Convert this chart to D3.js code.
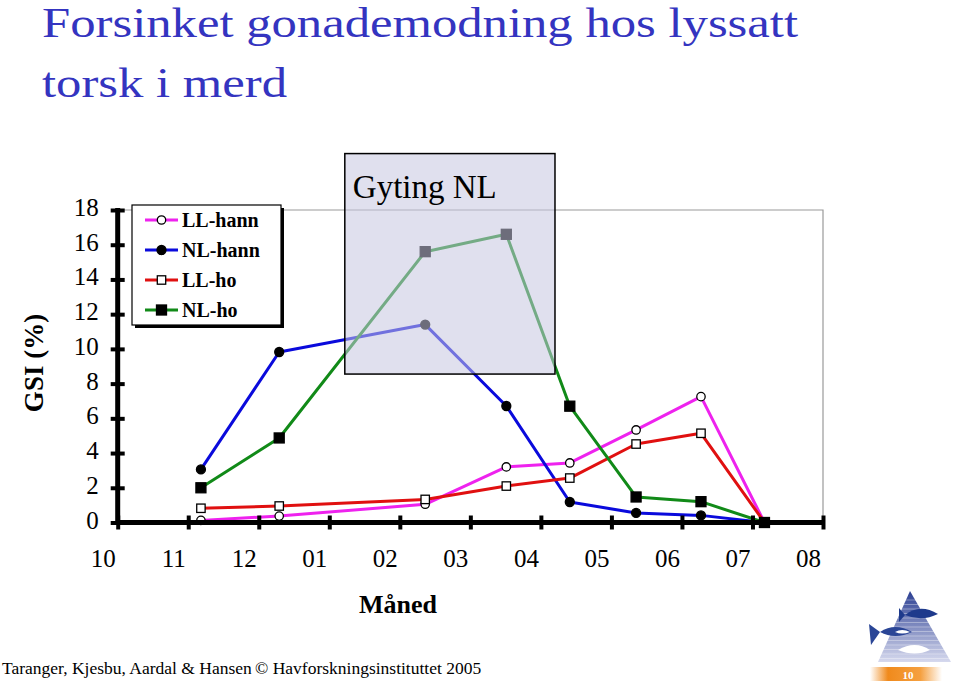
<!DOCTYPE html>
<html>
<head>
<meta charset="utf-8">
<script src="https://cdn.jsdelivr.net/npm/d3@7"></script>
<style>
  body { margin: 0; background: #fff; }
  svg { display: block; font-family: "Liberation Serif", "Times New Roman", serif; }
</style>
</head>
<body>
<svg id="chart" width="960" height="688"></svg>
<script>
// month ticks, first tick = October
var monthLabels = ['10', '11', '12', '01', '02', '03', '04', '05', '06', '07', '08'];
var gsiTicks = [0, 2, 4, 6, 8, 10, 12, 14, 16, 18];

// sampling time, in months after the October tick
var sampleMonth = [1.18, 2.29, 4.36, 5.51, 6.41, 7.35, 8.27, 9.17];

var llHann = [0.12, 0.37, 1.05, 3.2, 3.43, 5.33, 7.25, 0];
var nlHann = [3.06, 9.82, 11.4, 6.71, 1.18, 0.55, 0.41, 0];
var llHo   = [0.82, 0.95, 1.33, 2.1, 2.56, 4.52, 5.14, 0];
var nlHo   = [2.0, 4.87, 15.6, 16.6, 6.7, 1.47, 1.2, 0];

var seriesNames = ['LL-hann', 'NL-hann', 'LL-ho', 'NL-ho'];

// spawning period NL (months / GSI extent of the shaded box)
var spawnMonths = [3.22, 6.2];
var spawnGsi = [8.55, 21.25];

var series = [
  { name: seriesNames[0], values: llHann, color: '#ee22ee', marker: 'circle', filled: false },
  { name: seriesNames[1], values: nlHann, color: '#0a0adc', marker: 'circle', filled: true },
  { name: seriesNames[2], values: llHo,   color: '#e01010', marker: 'square', filled: false },
  { name: seriesNames[3], values: nlHo,   color: '#118a18', marker: 'square', filled: true }
];

var svg = d3.select('#chart');

var x = d3.scaleLinear().domain([0, 10]).range([117.7, 823]);
var y = d3.scaleLinear().domain([0, 18]).range([522.5, 210]);

// title (glyphs in the slide are a bit wider than the font's own)
var title = svg.append('g').attr('fill', '#3434c0').style('font-size', '42px');
title.append('text').attr('x', 42).attr('y', 37)
    .attr('textLength', 756).attr('lengthAdjust', 'spacingAndGlyphs')
    .text('Forsinket gonademodning hos lyssatt');
title.append('text').attr('x', 42).attr('y', 97)
    .attr('textLength', 245).attr('lengthAdjust', 'spacingAndGlyphs')
    .text('torsk i merd');

// plot frame (top and right)
svg.append('path')
    .attr('d', 'M' + x(0) + ',' + y(18) + 'H' + x(10) + 'V' + y(0))
    .attr('fill', 'none')
    .attr('stroke', '#9a9a9a')
    .attr('stroke-width', 1.2);

// lines + markers
var line = d3.line()
    .x(function(d, i) { return x(sampleMonth[i]); })
    .y(function(d) { return y(d); });

series.forEach(function(s) {
    var g = svg.append('g');
    g.append('path')
        .attr('d', line(s.values))
        .attr('fill', 'none')
        .attr('stroke', s.color)
        .attr('stroke-width', 3)
        .attr('stroke-linejoin', 'round');
    s.values.forEach(function(v, i) {
        drawMarker(g, s, x(sampleMonth[i]), y(v));
    });
});

function drawMarker(g, s, cx, cy) {
    var fill = s.filled ? '#000' : '#fff';
    if (s.marker === 'circle') {
        g.append('circle')
            .attr('cx', cx).attr('cy', cy)
            .attr('r', s.filled ? 4.5 : 4.2)
            .attr('fill', fill)
            .attr('stroke', '#000')
            .attr('stroke-width', 1.3);
    } else {
        var h = s.filled ? 5 : 4.2;
        g.append('rect')
            .attr('x', cx - h).attr('y', cy - h)
            .attr('width', h * 2).attr('height', h * 2)
            .attr('fill', fill)
            .attr('stroke', '#000')
            .attr('stroke-width', 1.3);
    }
}

// axes
var axisFont = '"Liberation Serif", "Times New Roman", serif';
var yAxis = d3.axisLeft(y).tickValues(gsiTicks).tickSize(0).tickPadding(19);
var gy = svg.append('g').attr('transform', 'translate(' + x(0) + ',0)').call(yAxis)
    .attr('font-family', axisFont).attr('font-size', 25);
gy.select('.domain').remove();
gy.selectAll('.tick text')
    .attr('dy', '0.22em')
    .attr('fill', '#000');
gy.selectAll('.tick').append('line')
    .attr('x1', -7).attr('x2', 7)
    .attr('stroke', '#000').attr('stroke-width', 4);

var xAxis = d3.axisBottom(x)
    .tickValues(d3.range(monthLabels.length))
    .tickFormat(function(d) { return monthLabels[d]; })
    .tickSize(0).tickPadding(27);
var gx = svg.append('g').attr('transform', 'translate(0,' + y(0) + ')').call(xAxis)
    .attr('font-family', axisFont).attr('font-size', 25);
gx.select('.domain').remove();
gx.selectAll('.tick text')
    .attr('dx', -15)
    .attr('fill', '#000');
gx.selectAll('.tick').append('line')
    .attr('y1', -7).attr('y2', 7)
    .attr('stroke', '#000').attr('stroke-width', 4);

svg.append('line')
    .attr('x1', x(0)).attr('x2', x(10) + 2)
    .attr('y1', y(0)).attr('y2', y(0))
    .attr('stroke', '#000').attr('stroke-width', 5);
svg.append('line')
    .attr('x1', x(0)).attr('x2', x(0))
    .attr('y1', y(18) - 2).attr('y2', y(0) + 2)
    .attr('stroke', '#000').attr('stroke-width', 5);

// shaded spawning box
var bx0 = x(spawnMonths[0]), bx1 = x(spawnMonths[1]);
var by0 = y(spawnGsi[1]), by1 = y(spawnGsi[0]);
svg.append('rect')
    .attr('x', bx0).attr('y', by0)
    .attr('width', bx1 - bx0).attr('height', by1 - by0)
    .attr('fill', '#c6c6e0')
    .attr('fill-opacity', 0.55)
    .attr('stroke', '#000')
    .attr('stroke-width', 1.5);
svg.append('text')
    .attr('x', bx0 + 8).attr('y', by0 + 44)
    .style('font-size', '33px')
    .text('Gyting NL');

// legend
var lg = svg.append('g').attr('transform', 'translate(132,205)');
lg.append('rect').attr('x', 3).attr('y', 3).attr('width', 149).attr('height', 120).attr('fill', '#000');
lg.append('rect').attr('x', 0).attr('y', 0).attr('width', 149).attr('height', 120)
    .attr('fill', '#fff').attr('stroke', '#000').attr('stroke-width', 1.2);
series.forEach(function(s, i) {
    var ry = 15 + i * 30;
    lg.append('line')
        .attr('x1', 13).attr('x2', 46).attr('y1', ry).attr('y2', ry)
        .attr('stroke', s.color).attr('stroke-width', 3);
    drawMarker(lg, s, 29.5, ry);
    lg.append('text')
        .attr('x', 50).attr('y', ry).attr('dy', '0.34em')
        .style('font-size', '20px').style('font-weight', 'bold')
        .text(s.name);
});

// axis titles
svg.append('text')
    .attr('transform', 'translate(43,363) rotate(-90)')
    .attr('text-anchor', 'middle')
    .style('font-size', '27px').style('font-weight', 'bold')
    .text('GSI (%)');
svg.append('text')
    .attr('x', 398).attr('y', 613)
    .attr('text-anchor', 'middle')
    .style('font-size', '26px').style('font-weight', 'bold')
    .text('Måned');

// footer
svg.append('text')
    .attr('x', 2).attr('y', 674)
    .style('font-size', '17.5px')
    .text('Taranger, Kjesbu, Aardal & Hansen');
svg.append('text')
    .attr('x', 255).attr('y', 674)
    .style('font-size', '17.5px')
    .text('© Havforskningsinstituttet 2005');

// institute logo (simplified)
var defs = svg.append('defs');
var tg = defs.append('linearGradient').attr('id', 'tri').attr('x1', 0).attr('y1', 0).attr('x2', 0).attr('y2', 1);
tg.append('stop').attr('offset', '0%').attr('stop-color', '#2b3f92');
tg.append('stop').attr('offset', '100%').attr('stop-color', '#d6d9ee');
var og = defs.append('linearGradient').attr('id', 'org').attr('x1', 0).attr('y1', 0).attr('x2', 1).attr('y2', 0);
og.append('stop').attr('offset', '0%').attr('stop-color', '#fff');
og.append('stop').attr('offset', '25%').attr('stop-color', '#f08a1c');
og.append('stop').attr('offset', '70%').attr('stop-color', '#f5a040');
og.append('stop').attr('offset', '100%').attr('stop-color', '#fff');

var logo = svg.append('g');
logo.append('path').attr('d', 'M910,591 L878,662 L951,662 Z').attr('fill', 'url(#tri)');
for (var k = 0; k < 14; k++) {
    logo.append('line')
        .attr('x1', 870).attr('x2', 955)
        .attr('y1', 600 + k * 4.5).attr('y2', 600 + k * 4.5)
        .attr('stroke', '#fff').attr('stroke-opacity', 0.35).attr('stroke-width', 1);
}
logo.append('path').attr('d', 'M905,615 Q920,603 938,614 Q922,622 905,615 Z').attr('fill', '#1e3a8c');
logo.append('path').attr('d', 'M905,615 L899,608 L899,622 Z').attr('fill', '#1e3a8c');
logo.append('path').attr('d', 'M880,632 Q895,622 912,632 Q895,640 880,632 Z').attr('fill', '#2a4596');
logo.append('path').attr('d', 'M880,632 L869,624 L871,645 Z').attr('fill', '#2a4596');
logo.append('path').attr('d', 'M895,632 Q902,628 910,632 Q902,635 895,632 Z').attr('fill', '#fff');
logo.append('path').attr('d', 'M898,650 Q915,640 930,650 Q915,657 898,650 Z').attr('fill', '#fff');
logo.append('rect').attr('x', 870).attr('y', 667).attr('width', 72).attr('height', 14).attr('fill', 'url(#org)');
logo.append('text').attr('x', 908).attr('y', 678.5)
    .attr('text-anchor', 'middle')
    .style('font-size', '11px').style('font-weight', 'bold')
    .attr('fill', '#fff').text('10');
</script>
</body>
</html>
